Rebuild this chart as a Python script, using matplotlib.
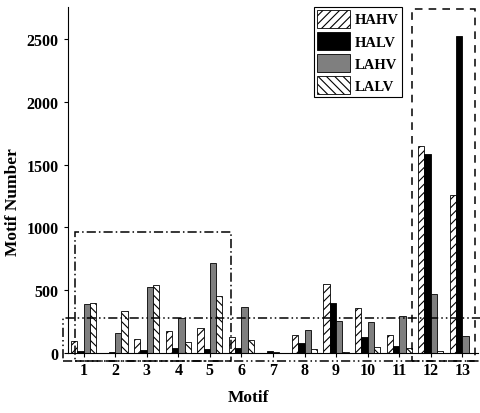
import matplotlib
matplotlib.use("agg")
import matplotlib.pyplot as plt
from matplotlib import rcParams
from matplotlib.patches import Rectangle
import numpy as np

rcParams['font.family'] = "Liberation Serif"
rcParams['font.weight'] = "bold"
rcParams['hatch.linewidth'] = 0.8

motifs = np.arange(1, 14)
hahv = [93, 0, 111, 178, 201, 127, 0, 146, 547, 358, 146, 1650, 1258]
halv = [13, 8, 21, 42, 35, 42, 12, 80, 396, 127, 53, 1584, 2524]
lahv = [388, 159, 523, 279, 719, 366, 10, 181, 252, 244, 292, 467, 133]
lalv = [396, 337, 539, 85, 456, 103, 0, 35, 5, 48, 40, 14, 0]

series = [("HAHV", hahv, "white", "////"),
          ("HALV", halv, "black", None),
          ("LAHV", lahv, "#7f7f7f", None),
          ("LALV", lalv, "white", "\\\\\\\\")]

fig = plt.figure(figsize=(4.81, 4.14), dpi=100)
ax = fig.add_axes([0.141, 0.145, 0.853, 0.836])

barWidth = 0.2
for idx, (name, vals, col, hatch) in enumerate(series):
    ax.bar(motifs + (idx - 1.5) * barWidth, vals, width=barWidth,
           color=col, edgecolor="black", linewidth=0.6, hatch=hatch, label=name)

ax.set_xlim(0.5, 13.5)
ax.set_ylim(0, 2755)
ax.set_xticks(motifs)
ax.set_yticks([0, 500, 1000, 1500, 2000, 2500])
ax.tick_params(axis="both", labelsize=11.5, direction="out", length=3, width=0.8)
ax.spines["top"].set_visible(False)
ax.spines["right"].set_visible(False)
for lbl in ax.get_xticklabels() + ax.get_yticklabels():
    lbl.set_fontweight("bold")

ax.set_xlabel("Motif", fontsize=12.5, fontweight="bold")
ax.set_ylabel("Motif Number", fontsize=12.5, fontweight="bold")
ax.xaxis.set_label_coords(0.44, -0.105)
ax.yaxis.set_label_coords(-0.115, 0.44)

# region outlines around the groups of interest
boxes = [((0.73, -64), 4.94, 1030, (0, (6, 2, 1, 2))),
         ((0.35, -64), 13.3, 344, (0, (6, 2, 1, 2, 1, 2))),
         ((11.39, -64), 2.0, 2804, (0, (5, 4)))]
for (x0, y0), w, h, ls in boxes:
    ax.add_patch(Rectangle((x0, y0), w, h, fill=False, edgecolor="black",
                           linewidth=1.1, linestyle=ls, clip_on=False))

leg = ax.legend(loc="upper left", bbox_to_anchor=(0.6, 1.0), fontsize=10.5,
                handlelength=2.3, handleheight=1.5, handletextpad=0.3,
                labelspacing=0.3, borderpad=0.2, borderaxespad=0,
                fancybox=False, edgecolor="black", framealpha=1)
leg.get_frame().set_linewidth(0.8)

plt.savefig("out.png", dpi=100)
